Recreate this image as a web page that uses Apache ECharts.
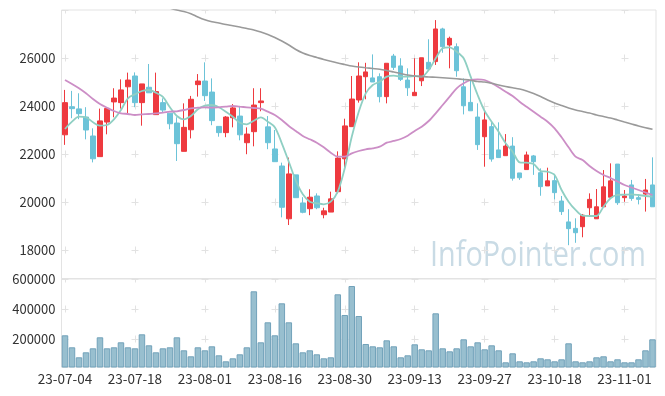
<!DOCTYPE html>
<html>
<head>
<meta charset="utf-8">
<script src="https://cdn.jsdelivr.net/npm/echarts@6/dist/echarts.min.js"></script>
<style>html,body{margin:0;padding:0;background:#fff}#c{width:665px;height:396px}</style>
</head>
<body>
<div id="c"></div>
<script>
const dates = ['23-07-04','23-07-05','23-07-06','23-07-07','23-07-10','23-07-11','23-07-12','23-07-13','23-07-14','23-07-17',
'23-07-18','23-07-19','23-07-20','23-07-21','23-07-24','23-07-25','23-07-26','23-07-27','23-07-28','23-07-31',
'23-08-01','23-08-02','23-08-03','23-08-04','23-08-07','23-08-08','23-08-09','23-08-10','23-08-11','23-08-14',
'23-08-16','23-08-17','23-08-18','23-08-21','23-08-22','23-08-23','23-08-24','23-08-25','23-08-28','23-08-29',
'23-08-30','23-08-31','23-09-01','23-09-04','23-09-05','23-09-06','23-09-07','23-09-08','23-09-11','23-09-12',
'23-09-13','23-09-14','23-09-15','23-09-18','23-09-19','23-09-20','23-09-21','23-09-22','23-09-25','23-09-26',
'23-09-27','23-10-04','23-10-05','23-10-06','23-10-10','23-10-11','23-10-12','23-10-13','23-10-16','23-10-17',
'23-10-18','23-10-19','23-10-20','23-10-23','23-10-24','23-10-25','23-10-26','23-10-27','23-10-30','23-10-31',
'23-11-01','23-11-02','23-11-03','23-11-06','23-11-07'];

const opens = [22800,23970,23880,23540,22750,21890,23330,24170,24140,24800,
25250,24140,24780,23640,24140,23700,23290,22110,23010,24890,
25040,24580,23150,22890,23510,23580,22470,22930,24140,23130,
22210,21500,19300,21130,19960,19720,20250,19470,19580,20430,
21800,23140,24250,25220,25170,25220,24390,26080,25670,25080,
24430,25050,25820,25850,27210,26540,26470,24800,24150,23540,
22720,23140,22170,21930,22330,21210,21350,21920,21220,20670,
20890,20040,19170,18900,18970,19760,19300,19800,20200,21580,
20180,20710,20180,20330,20710];

const closes = [24140,23890,23680,23000,21800,23380,23900,24330,24670,25080,
24140,24920,24550,24600,23830,23260,22430,23110,24280,25040,
24430,23390,22890,23540,23920,22800,22830,24040,24210,22470,
21680,19780,21170,20180,19570,20200,19760,19630,20130,21830,
23170,24290,25250,25420,25000,24390,25780,25610,25110,24760,
24570,26010,25540,27210,26470,26820,25470,24010,23800,22390,
23420,21790,21850,22330,20990,21010,21960,21680,20640,20880,
20390,19600,18890,18720,19450,20110,19800,20630,20880,19970,
20250,20150,20110,20500,19800];

const lows = [22380,23490,23450,22610,21650,21890,22820,23530,23890,23640,
23950,23180,24550,23640,23720,23030,21710,22110,22650,24390,
24210,23200,22720,22700,23110,22570,21990,22320,23780,22200,
21680,19360,19040,20180,19530,19450,19700,19320,19580,20360,
21360,23140,24140,24280,25000,24150,24110,25500,25040,24420,
24430,24830,25540,25710,26220,25570,25220,23650,23800,22170,
21470,21680,21850,21930,20890,20920,21350,21130,20260,20670,
20110,19460,18200,18300,18530,19390,19300,19800,20200,19880,
20010,20050,19900,19600,19800];

const highs = [24670,24630,24530,23950,23070,23890,23900,24740,25110,25390,
25400,24920,25750,25390,24320,23700,23530,24110,24420,25330,
25820,25150,23150,23580,24080,23970,23110,24740,24740,23580,
23000,21640,21850,21130,20200,20530,20360,19760,20430,22110,
23470,25250,25820,25800,26150,25360,25780,26170,25990,25570,
25990,26010,26780,27580,27260,26890,26610,25150,25080,24110,
23760,23350,23320,22830,22700,21210,22100,21960,21400,21430,
21170,20250,19700,19320,19500,20360,20540,21330,21610,21580,
20500,20920,20320,20960,21860];

const volumes = [224667,144667,78000,111333,138000,211333,138000,144667,178000,144667,
138000,231333,158000,111333,138000,144667,211333,124667,84667,144667,
124667,151333,91333,51333,71333,98000,144667,518000,178000,311333,
224667,438000,311333,171333,111333,124667,98000,71333,78000,498000,
360000,553333,353333,166667,151333,144667,191333,151333,78000,91333,
164667,131333,124667,371333,138000,118000,138000,198000,151333,178000,
131333,158000,124667,44667,104667,51333,44667,51333,71333,64667,
51333,64667,171333,51333,44667,51333,78000,84667,51333,64667,
44667,44667,64667,124667,198000];

const ma5 = [23042,23346,23554,23529,23321,23179,23208,23446,23833,24321,
24488,24625,24667,24554,24375,23946,23583,23446,23583,23863,
24013,24042,23946,23763,23554,23304,23238,23388,23529,23346,
23113,22446,21679,20888,20321,20013,19946,19904,20013,20429,
21404,22721,23763,24529,24875,25013,25221,25263,25221,25221,
25250,25221,25500,25988,26404,26446,26263,25988,25221,24458,
23792,23346,22929,22446,22096,21654,21638,21583,21292,21263,
21125,20500,20013,19667,19429,19417,19417,19804,20154,20292,
20304,20321,20292,20250,20221];

const ma20 = [25083,24917,24738,24529,24292,24083,23929,23792,23696,23667,
23625,23654,23667,23696,23721,23763,23779,23833,23904,23929,
23946,23929,23946,23971,24000,23971,23946,23917,23888,23763,
23625,23417,23167,22958,22750,22613,22471,22279,22054,21888,
21888,22029,22125,22196,22238,22304,22471,22542,22625,22763,
22958,23138,23375,23696,24042,24388,24738,24946,25083,25113,
25083,24946,24779,24596,24417,24179,23971,23763,23554,23346,
23071,22696,22279,21888,21750,21500,21292,21125,21000,20854,
20708,20604,20500,20396,20292];

const maLong = [29300,29250,29200,29140,29080,29010,28940,28860,28780,28700,
28600,28500,28400,28290,28180,28080,28000,27938,27846,27708,
27592,27513,27458,27396,27346,27292,27229,27167,27083,26979,
26854,26708,26542,26354,26208,26104,26021,25938,25863,25792,
25729,25667,25625,25592,25563,25533,25479,25417,25354,25292,
25250,25229,25208,25196,25179,25158,25133,25104,25071,25021,
25000,24946,24875,24813,24758,24708,24625,24521,24396,24250,
24125,24021,23917,23833,23771,23708,23625,23563,23500,23417,
23333,23250,23167,23092,23029];

const watermarkText = 'InfoPointer.com';

const ohlc = dates.map((d, i) => [opens[i], closes[i], lows[i], highs[i]]);

const labelFont = '"Noto Sans CJK KR", "Noto Sans", sans-serif';
const wmFont = '34px "Open Sans"';
const mctx = document.createElement('canvas').getContext('2d');
mctx.font = wmFont;
const wmScale = 216 / mctx.measureText(watermarkText).width;
const plain = v => String(Math.round(v));

const chart = echarts.init(document.getElementById('c'), null, {renderer: 'canvas'});
chart.setOption({
  animation: false,
  backgroundColor: '#fff',
  graphic: [{
    type: 'text', z: -10, zlevel: 0,
    x: 430, y: 256, scaleX: wmScale, scaleY: 1,
    style: {text: watermarkText, font: wmFont, fill: '#c9dbe5', textVerticalAlign: 'middle', textAlign: 'left'}
  }],
  grid: [
    {left: 61.5, top: 10, width: 594.5, height: 268.5, show: true, borderColor: '#e3e3e3', borderWidth: 1, backgroundColor: 'transparent'},
    {left: 61.5, top: 279, width: 594.5, height: 88, show: true, borderColor: '#e3e3e3', borderWidth: 1, backgroundColor: 'transparent'}
  ],
  xAxis: [
    {type: 'category', gridIndex: 0, data: dates, boundaryGap: true,
     axisLine: {show: false}, axisTick: {show: false}, axisLabel: {show: false},
     splitLine: {show: true, interval: 9, alignWithLabel: true, lineStyle: {color: '#e2e2e2', width: 1, type: [7, 41], dashOffset: 3.5}}},
    {type: 'category', gridIndex: 1, data: dates, boundaryGap: true,
     axisLine: {show: false}, axisTick: {show: false},
     axisLabel: {show: true, interval: 9, margin: 5, fontSize: 13.5, color: '#333', fontFamily: labelFont},
     splitLine: {show: true, interval: 9, alignWithLabel: true, lineStyle: {color: '#e2e2e2', width: 1, type: [7, 23], dashOffset: 3.5}}}
  ],
  yAxis: [
    {type: 'value', gridIndex: 0, min: 16812, max: 28000, splitNumber: 5,
     axisLine: {show: false}, axisTick: {show: false},
     axisLabel: {showMinLabel: false, showMaxLabel: false, margin: 6, fontSize: 13, color: '#333', fontFamily: labelFont, formatter: plain},
     splitLine: {show: true, lineStyle: {color: '#e2e2e2', width: 1, type: [7, 63], dashOffset: 0}}},
    {type: 'value', gridIndex: 1, min: 13333, max: 600000, splitNumber: 3,
     axisLine: {show: false}, axisTick: {show: false},
     axisLabel: {showMinLabel: false, margin: 6, fontSize: 13, color: '#333', fontFamily: labelFont, formatter: plain},
     splitLine: {show: true, lineStyle: {color: '#e2e2e2', width: 1, type: [7, 63], dashOffset: 0}}}
  ],
  series: [
    {name: 'price', type: 'candlestick', xAxisIndex: 0, yAxisIndex: 0, data: ohlc, barWidth: 5,
     itemStyle: {color: '#ee3a3f', color0: '#6cc3d8', borderColor: '#ee3a3f', borderColor0: '#6cc3d8', borderWidth: 1}},
    {name: 'MA5', type: 'line', xAxisIndex: 0, yAxisIndex: 0, data: ma5, symbol: 'none', smooth: 0.3,
     lineStyle: {color: '#8fcfc3', width: 1.8}, z: 3},
    {name: 'MA20', type: 'line', xAxisIndex: 0, yAxisIndex: 0, data: ma20, symbol: 'none', smooth: 0.3,
     lineStyle: {color: '#cc8ec6', width: 1.8}, z: 3},
    {name: 'MA120', type: 'line', xAxisIndex: 0, yAxisIndex: 0, data: maLong, symbol: 'none', smooth: 0.3,
     lineStyle: {color: '#9a9a9a', width: 1.6}, z: 3},
    {name: 'volume', type: 'bar', xAxisIndex: 1, yAxisIndex: 1, data: volumes, barWidth: 6.5,
     itemStyle: {color: '#98bfcf', borderColor: '#72a2ba', borderWidth: 1}}
  ]
});
</script>
</body>
</html>
